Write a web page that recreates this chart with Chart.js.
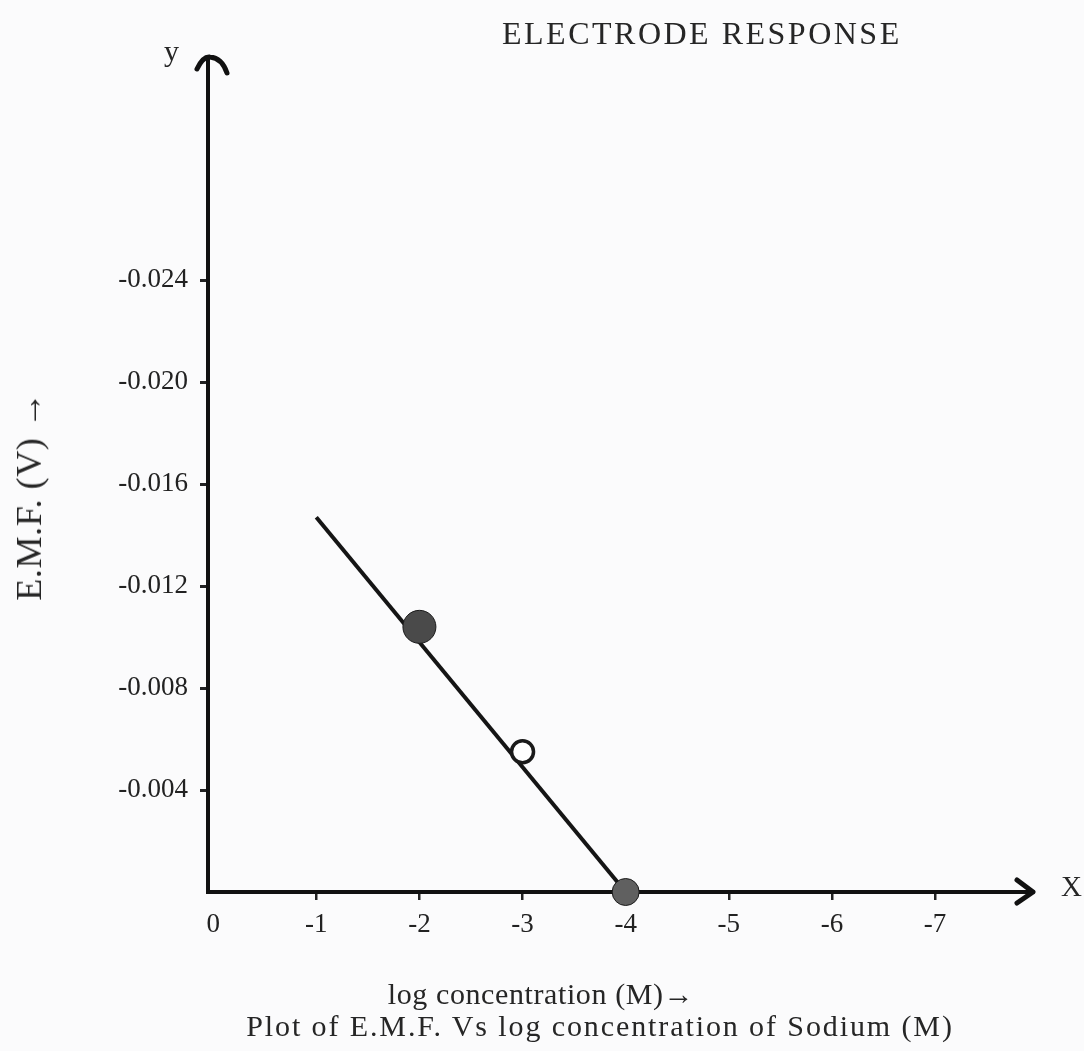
<!DOCTYPE html>
<html>
<head>
<meta charset="utf-8">
<script src="https://cdn.jsdelivr.net/npm/chart.js@4/dist/chart.umd.min.js"></script>
<style>
  html,body{margin:0;padding:0;background:#fbfbfc;}
  #wrap{position:relative;width:1084px;height:1051px;overflow:hidden;}
  #c{position:absolute;left:0;top:0;}
  .t{position:absolute;font-family:"Liberation Serif","DejaVu Serif",serif;color:#262626;white-space:nowrap;line-height:1;}
</style>
</head>
<body>
<div id="wrap">
  <canvas id="c" width="1084" height="1051"></canvas>
  <div class="t" id="title" style="left:502px;top:17px;font-size:32px;letter-spacing:2.5px;">ELECTRODE RESPONSE</div>
  <div class="t" style="left:164px;top:36px;font-size:30px;">y</div>
  <div class="t" style="left:1061px;top:872px;font-size:29px;">X</div>
  <div class="t" id="ytitle" style="left:29px;top:496px;font-size:36px;letter-spacing:0.6px;transform:translate(-50%,-50%) rotate(-90deg);">E.M.F. (V) &rarr;</div>
  <div class="t" style="left:541px;top:994px;font-size:30px;letter-spacing:0.6px;transform:translate(-50%,-50%);">log concentration (M)&rarr;</div>
  <div class="t" style="left:600px;top:1026px;font-size:30px;letter-spacing:1.9px;transform:translate(-50%,-50%);">Plot of E.M.F. Vs log concentration of Sodium (M)</div>
</div>
<script>
// ---- data ----
// straight response line (start and end)
const lineLogConc = [-1, -4];
const lineEmf = [-0.0147, 0];
// measured points
const pointLogConc = [-2, -3, -4];
const pointEmf = [-0.0104, -0.0055, 0];
const pointRadius = [16.5, 11, 13.5];
const pointFill = ['#4a4a4a', '#ffffff', '#606060'];
const pointBorder = [1, 3.5, 1];
// axis ticks
const xTicks = [0, -1, -2, -3, -4, -5, -6, -7];
const yTicks = [-0.024, -0.020, -0.016, -0.012, -0.008, -0.004];

const arrows = {
  id: 'arrows',
  afterDraw(chart) {
    const ctx = chart.ctx, a = chart.chartArea;
    ctx.save();
    ctx.strokeStyle = '#111';
    ctx.lineWidth = 5;
    ctx.lineCap = 'round';
    ctx.lineJoin = 'round';
    // y arrow
    ctx.beginPath();
    ctx.moveTo(a.left - 11, a.top + 12);
    ctx.quadraticCurveTo(a.left - 5, a.top - 1, a.left + 2, a.top);
    ctx.quadraticCurveTo(a.left + 14, a.top + 1, a.left + 19, a.top + 16);
    ctx.stroke();
    // x arrow
    ctx.beginPath();
    ctx.moveTo(a.right - 16, a.bottom - 12);
    ctx.lineTo(a.right, a.bottom);
    ctx.lineTo(a.right - 16, a.bottom + 11);
    ctx.stroke();
    ctx.restore();
  }
};

const linePts = lineLogConc.map((x, i) => ({x: x, y: lineEmf[i]}));
const markPts = pointLogConc.map((x, i) => ({x: x, y: pointEmf[i]}));

new Chart(document.getElementById('c'), {
  type: 'scatter',
  data: {
    datasets: [{
      data: linePts,
      showLine: true,
      borderColor: '#151515',
      borderWidth: 4,
      pointRadius: 0,
      clip: false,
      order: 2
    }, {
      data: markPts,
      showLine: false,
      pointRadius: pointRadius,
      pointHoverRadius: pointRadius,
      pointBackgroundColor: pointFill,
      pointBorderColor: '#1a1a1a',
      pointBorderWidth: pointBorder,
      clip: false,
      order: 1
    }]
  },
  options: {
    responsive: false,
    animation: false,
    events: [],
    layout: {padding: {left: 0, top: 57, right: 51, bottom: 0}},
    plugins: {legend: {display: false}, tooltip: {enabled: false}, title: {display: false}},
    scales: {
      x: {
        type: 'linear',
        min: -7.95, max: 0.05,
        reverse: true,
        afterFit: s => { s.height = 159; },
        afterBuildTicks: s => { s.ticks = xTicks.map(v => ({value: v})); },
        grid: {
          drawOnChartArea: false, drawTicks: true, tickLength: 8, lineWidth: 2.5,
          color: c => (c.tick && c.tick.value === 0) ? 'rgba(0,0,0,0)' : '#222'
        },
        border: {display: true, color: '#111', width: 4},
        ticks: {
          color: '#222', padding: 9,
          font: {family: '"Liberation Serif", serif', size: 27},
          callback: v => String(v)
        }
      },
      y: {
        type: 'linear',
        min: -0.03275, max: 0,
        reverse: true,
        afterFit: s => { s.width = 208; },
        afterBuildTicks: s => { s.ticks = yTicks.map(v => ({value: v})); },
        grid: {drawOnChartArea: false, drawTicks: true, tickLength: 8, color: '#222', lineWidth: 3},
        border: {display: true, color: '#111', width: 4},
        ticks: {
          color: '#222', padding: 12,
          font: {family: '"Liberation Serif", serif', size: 27},
          callback: v => v.toFixed(3)
        }
      }
    }
  },
  plugins: [arrows]
});
</script>
</body>
</html>
